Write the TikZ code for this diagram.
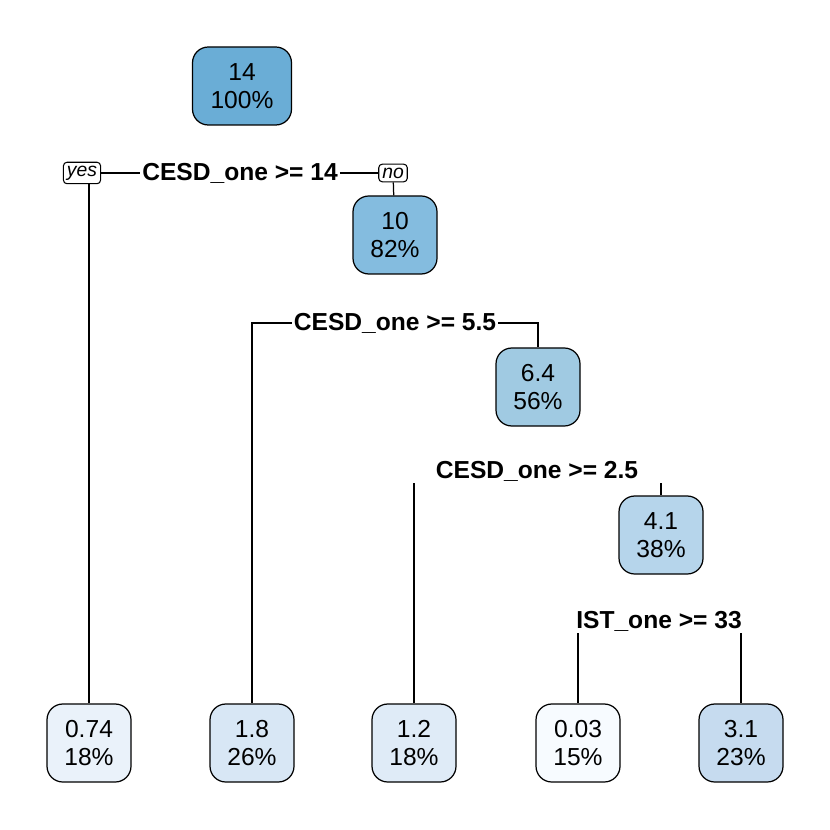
\documentclass[tikz,border=0pt]{standalone}
\usepackage{fontspec}
\setmainfont{Liberation Sans}
\begin{document}
\begin{tikzpicture}[x=0.02cm, y=-0.02cm, font=\fontsize{14}{16}\selectfont,
    box/.style={draw, rounded corners=9pt, line width=0.7pt, minimum width=84*0.02cm, minimum height=78*0.02cm, align=center, inner sep=1pt},
    tag/.style={draw, rounded corners=2pt, line width=0.6pt, font=\fontsize{11}{12}\selectfont\itshape, inner sep=2pt},
    split/.style={font=\fontsize{14}{16}\selectfont\bfseries, inner sep=1pt},
    edge/.style={line width=0.7pt}]
    \useasboundingbox (0,0) rectangle (830,830);
    \definecolor{c1}{HTML}{6AADD6}
    \definecolor{c2}{HTML}{84BCDF}
    \definecolor{c3}{HTML}{A0CAE2}
    \definecolor{c4}{HTML}{B6D5EB}
    \definecolor{l1}{HTML}{EAF2FA}
    \definecolor{l2}{HTML}{D8E7F5}
    \definecolor{l3}{HTML}{DFEBF7}
    \definecolor{l4}{HTML}{F7FBFF}
    \definecolor{l5}{HTML}{C6DBEF}
    % inner nodes
    \node[box, fill=c1, minimum width=99*0.02cm] (n1) at (242,86) {14\\100\%};
    \node[box, fill=c2] (n2) at (395,235) {10\\82\%};
    \node[box, fill=c3] (n3) at (538,387) {6.4\\56\%};
    \node[box, fill=c4] (n4) at (661,535) {4.1\\38\%};
    % leaves
    \node[box, fill=l1] (a) at (89,743) {0.74\\18\%};
    \node[box, fill=l2] (b) at (252,743) {1.8\\26\%};
    \node[box, fill=l3] (c) at (414,743) {1.2\\18\%};
    \node[box, fill=l4] (d) at (578,743) {0.03\\15\%};
    \node[box, fill=l5] (e) at (741,743) {3.1\\23\%};
    % split labels
    \node[split] (s1) at (240,173) {CESD\_one >= 14};
    \node[tag] (yes) at (82,173) {yes};
    \node[tag] (no) at (393,173) {no};
    \node[split] (s2) at (395,323) {CESD\_one >= 5.5};
    \node[split] (s3) at (537,471) {CESD\_one >= 2.5};
    \node[split] (s4) at (659,621) {IST\_one >= 33};
    % connectors
    \draw[edge] (yes) -- (s1) -- (no);
    \draw[edge] (yes.south -| a) -- (a);
    \draw[edge] (no) -- (n2);
    \draw[edge] (s2.west) -| (b);
    \draw[edge] (s2.east) -| (n3);
    \draw[edge] (s3.south -| c) -- (c);
    \draw[edge] (s3.south -| n4) -- (n4);
    \draw[edge] (s4.south -| d) -- (d);
    \draw[edge] (s4.south -| e) -- (e);
\end{tikzpicture}
\end{document}
